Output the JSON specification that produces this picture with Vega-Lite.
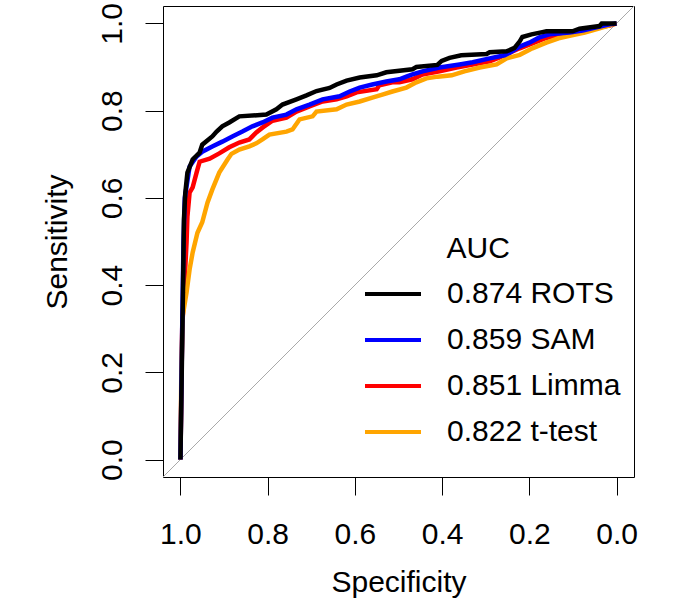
{
  "$schema": "https://vega.github.io/schema/vega-lite/v6.json",
  "width": 471,
  "height": 471,
  "autosize": {"type": "none"},
  "padding": {"left": 163, "top": 6, "right": 48, "bottom": 129},
  "background": "white",
  "config": {
    "font": "Liberation Sans",
    "view": {"stroke": "black", "strokeWidth": 1},
    "axis": {
      "domain": false, "grid": false,
      "tickColor": "black", "tickSize": 18, "tickWidth": 1,
      "labelFont": "Liberation Sans", "labelFontSize": 30, "labelColor": "black",
      "titleFont": "Liberation Sans", "titleFontSize": 30, "titleFontWeight": "normal", "titleColor": "black",
      "labelFlush": false, "labelOverlap": false
    },
    "legend": {
      "orient": "none", "legendX": 215, "legendY": 273, "padding": 0,
      "labelFont": "Liberation Sans", "labelFontSize": 30, "labelColor": "black", "labelLimit": 400,
      "symbolType": "M-3.5,0H3.5", "symbolSize": 256, "symbolStrokeWidth": 4,
      "labelOffset": 39, "rowPadding": 16
    }
  },
  "data": {"values": [
    {"s":"0.874 ROTS","spec":1.0,"sens":0.0},{"s":"0.874 ROTS","spec":0.997,"sens":0.2},{"s":"0.874 ROTS","spec":0.994,"sens":0.4},{"s":"0.874 ROTS","spec":0.992,"sens":0.55},{"s":"0.874 ROTS","spec":0.989,"sens":0.61},{"s":"0.874 ROTS","spec":0.984,"sens":0.658},{"s":"0.874 ROTS","spec":0.972,"sens":0.688},{"s":"0.874 ROTS","spec":0.956,"sens":0.704},{"s":"0.874 ROTS","spec":0.95,"sens":0.722},{"s":"0.874 ROTS","spec":0.927,"sens":0.741},{"s":"0.874 ROTS","spec":0.917,"sens":0.752},{"s":"0.874 ROTS","spec":0.904,"sens":0.764},{"s":"0.874 ROTS","spec":0.888,"sens":0.773},{"s":"0.874 ROTS","spec":0.865,"sens":0.787},{"s":"0.874 ROTS","spec":0.803,"sens":0.791},{"s":"0.874 ROTS","spec":0.78,"sens":0.803},{"s":"0.874 ROTS","spec":0.766,"sens":0.814},{"s":"0.874 ROTS","spec":0.734,"sens":0.826},{"s":"0.874 ROTS","spec":0.711,"sens":0.835},{"s":"0.874 ROTS","spec":0.688,"sens":0.845},{"s":"0.874 ROTS","spec":0.658,"sens":0.852},{"s":"0.874 ROTS","spec":0.642,"sens":0.86},{"s":"0.874 ROTS","spec":0.619,"sens":0.869},{"s":"0.874 ROTS","spec":0.589,"sens":0.876},{"s":"0.874 ROTS","spec":0.55,"sens":0.881},{"s":"0.874 ROTS","spec":0.528,"sens":0.888},{"s":"0.874 ROTS","spec":0.468,"sens":0.895},{"s":"0.874 ROTS","spec":0.459,"sens":0.9},{"s":"0.874 ROTS","spec":0.411,"sens":0.905},{"s":"0.874 ROTS","spec":0.401,"sens":0.914},{"s":"0.874 ROTS","spec":0.383,"sens":0.921},{"s":"0.874 ROTS","spec":0.356,"sens":0.927},{"s":"0.874 ROTS","spec":0.298,"sens":0.93},{"s":"0.874 ROTS","spec":0.291,"sens":0.934},{"s":"0.874 ROTS","spec":0.252,"sens":0.936},{"s":"0.874 ROTS","spec":0.234,"sens":0.944},{"s":"0.874 ROTS","spec":0.222,"sens":0.959},{"s":"0.874 ROTS","spec":0.216,"sens":0.969},{"s":"0.874 ROTS","spec":0.195,"sens":0.975},{"s":"0.874 ROTS","spec":0.17,"sens":0.98},{"s":"0.874 ROTS","spec":0.161,"sens":0.982},{"s":"0.874 ROTS","spec":0.101,"sens":0.982},{"s":"0.874 ROTS","spec":0.085,"sens":0.988},{"s":"0.874 ROTS","spec":0.039,"sens":0.994},{"s":"0.874 ROTS","spec":0.034,"sens":1.0},{"s":"0.874 ROTS","spec":0.0,"sens":1.0},

    {"s":"0.859 SAM","spec":1.0,"sens":0.0},{"s":"0.859 SAM","spec":0.996,"sens":0.3},{"s":"0.859 SAM","spec":0.993,"sens":0.5},{"s":"0.859 SAM","spec":0.99,"sens":0.6},{"s":"0.859 SAM","spec":0.979,"sens":0.672},{"s":"0.859 SAM","spec":0.963,"sens":0.695},{"s":"0.859 SAM","spec":0.95,"sens":0.706},{"s":"0.859 SAM","spec":0.927,"sens":0.718},{"s":"0.859 SAM","spec":0.904,"sens":0.729},{"s":"0.859 SAM","spec":0.881,"sens":0.741},{"s":"0.859 SAM","spec":0.858,"sens":0.752},{"s":"0.859 SAM","spec":0.835,"sens":0.764},{"s":"0.859 SAM","spec":0.812,"sens":0.773},{"s":"0.859 SAM","spec":0.789,"sens":0.784},{"s":"0.859 SAM","spec":0.757,"sens":0.791},{"s":"0.859 SAM","spec":0.734,"sens":0.803},{"s":"0.859 SAM","spec":0.704,"sens":0.814},{"s":"0.859 SAM","spec":0.674,"sens":0.826},{"s":"0.859 SAM","spec":0.635,"sens":0.833},{"s":"0.859 SAM","spec":0.612,"sens":0.844},{"s":"0.859 SAM","spec":0.589,"sens":0.853},{"s":"0.859 SAM","spec":0.56,"sens":0.86},{"s":"0.859 SAM","spec":0.528,"sens":0.867},{"s":"0.859 SAM","spec":0.498,"sens":0.872},{"s":"0.859 SAM","spec":0.482,"sens":0.878},{"s":"0.859 SAM","spec":0.468,"sens":0.883},{"s":"0.859 SAM","spec":0.445,"sens":0.89},{"s":"0.859 SAM","spec":0.406,"sens":0.899},{"s":"0.859 SAM","spec":0.36,"sens":0.906},{"s":"0.859 SAM","spec":0.33,"sens":0.911},{"s":"0.859 SAM","spec":0.291,"sens":0.92},{"s":"0.859 SAM","spec":0.257,"sens":0.927},{"s":"0.859 SAM","spec":0.245,"sens":0.933},{"s":"0.859 SAM","spec":0.222,"sens":0.947},{"s":"0.859 SAM","spec":0.2,"sens":0.956},{"s":"0.859 SAM","spec":0.177,"sens":0.968},{"s":"0.859 SAM","spec":0.154,"sens":0.975},{"s":"0.859 SAM","spec":0.108,"sens":0.979},{"s":"0.859 SAM","spec":0.078,"sens":0.984},{"s":"0.859 SAM","spec":0.046,"sens":0.991},{"s":"0.859 SAM","spec":0.016,"sens":0.998},{"s":"0.859 SAM","spec":0.0,"sens":1.0},

    {"s":"0.851 Limma","spec":1.0,"sens":0.0},{"s":"0.851 Limma","spec":0.996,"sens":0.3},{"s":"0.851 Limma","spec":0.986,"sens":0.498},{"s":"0.851 Limma","spec":0.984,"sens":0.557},{"s":"0.851 Limma","spec":0.979,"sens":0.612},{"s":"0.851 Limma","spec":0.972,"sens":0.624},{"s":"0.851 Limma","spec":0.963,"sens":0.658},{"s":"0.851 Limma","spec":0.956,"sens":0.683},{"s":"0.851 Limma","spec":0.933,"sens":0.69},{"s":"0.851 Limma","spec":0.911,"sens":0.702},{"s":"0.851 Limma","spec":0.888,"sens":0.716},{"s":"0.851 Limma","spec":0.865,"sens":0.727},{"s":"0.851 Limma","spec":0.842,"sens":0.734},{"s":"0.851 Limma","spec":0.826,"sens":0.75},{"s":"0.851 Limma","spec":0.812,"sens":0.761},{"s":"0.851 Limma","spec":0.789,"sens":0.777},{"s":"0.851 Limma","spec":0.757,"sens":0.784},{"s":"0.851 Limma","spec":0.734,"sens":0.798},{"s":"0.851 Limma","spec":0.704,"sens":0.81},{"s":"0.851 Limma","spec":0.674,"sens":0.821},{"s":"0.851 Limma","spec":0.642,"sens":0.826},{"s":"0.851 Limma","spec":0.619,"sens":0.833},{"s":"0.851 Limma","spec":0.596,"sens":0.842},{"s":"0.851 Limma","spec":0.55,"sens":0.849},{"s":"0.851 Limma","spec":0.544,"sens":0.858},{"s":"0.851 Limma","spec":0.514,"sens":0.865},{"s":"0.851 Limma","spec":0.498,"sens":0.865},{"s":"0.851 Limma","spec":0.468,"sens":0.872},{"s":"0.851 Limma","spec":0.445,"sens":0.883},{"s":"0.851 Limma","spec":0.406,"sens":0.89},{"s":"0.851 Limma","spec":0.367,"sens":0.899},{"s":"0.851 Limma","spec":0.33,"sens":0.906},{"s":"0.851 Limma","spec":0.291,"sens":0.913},{"s":"0.851 Limma","spec":0.268,"sens":0.922},{"s":"0.851 Limma","spec":0.245,"sens":0.933},{"s":"0.851 Limma","spec":0.222,"sens":0.943},{"s":"0.851 Limma","spec":0.193,"sens":0.954},{"s":"0.851 Limma","spec":0.163,"sens":0.966},{"s":"0.851 Limma","spec":0.131,"sens":0.975},{"s":"0.851 Limma","spec":0.094,"sens":0.982},{"s":"0.851 Limma","spec":0.055,"sens":0.989},{"s":"0.851 Limma","spec":0.016,"sens":0.995},{"s":"0.851 Limma","spec":0.0,"sens":1.0},

    {"s":"0.822 t-test","spec":1.0,"sens":0.0},{"s":"0.822 t-test","spec":0.998,"sens":0.2},{"s":"0.822 t-test","spec":0.995,"sens":0.328},{"s":"0.822 t-test","spec":0.986,"sens":0.383},{"s":"0.822 t-test","spec":0.979,"sens":0.436},{"s":"0.822 t-test","spec":0.972,"sens":0.475},{"s":"0.822 t-test","spec":0.961,"sens":0.52},{"s":"0.822 t-test","spec":0.95,"sens":0.544},{"s":"0.822 t-test","spec":0.938,"sens":0.589},{"s":"0.822 t-test","spec":0.927,"sens":0.619},{"s":"0.822 t-test","spec":0.911,"sens":0.658},{"s":"0.822 t-test","spec":0.892,"sens":0.688},{"s":"0.822 t-test","spec":0.883,"sens":0.701},{"s":"0.822 t-test","spec":0.865,"sens":0.711},{"s":"0.822 t-test","spec":0.842,"sens":0.718},{"s":"0.822 t-test","spec":0.826,"sens":0.725},{"s":"0.822 t-test","spec":0.812,"sens":0.734},{"s":"0.822 t-test","spec":0.796,"sens":0.745},{"s":"0.822 t-test","spec":0.757,"sens":0.752},{"s":"0.822 t-test","spec":0.743,"sens":0.757},{"s":"0.822 t-test","spec":0.727,"sens":0.78},{"s":"0.822 t-test","spec":0.697,"sens":0.787},{"s":"0.822 t-test","spec":0.688,"sens":0.798},{"s":"0.822 t-test","spec":0.642,"sens":0.803},{"s":"0.822 t-test","spec":0.619,"sens":0.814},{"s":"0.822 t-test","spec":0.589,"sens":0.821},{"s":"0.822 t-test","spec":0.56,"sens":0.83},{"s":"0.822 t-test","spec":0.537,"sens":0.837},{"s":"0.822 t-test","spec":0.514,"sens":0.844},{"s":"0.822 t-test","spec":0.482,"sens":0.853},{"s":"0.822 t-test","spec":0.459,"sens":0.865},{"s":"0.822 t-test","spec":0.436,"sens":0.874},{"s":"0.822 t-test","spec":0.41,"sens":0.878},{"s":"0.822 t-test","spec":0.378,"sens":0.881},{"s":"0.822 t-test","spec":0.349,"sens":0.89},{"s":"0.822 t-test","spec":0.314,"sens":0.899},{"s":"0.822 t-test","spec":0.275,"sens":0.906},{"s":"0.822 t-test","spec":0.252,"sens":0.92},{"s":"0.822 t-test","spec":0.222,"sens":0.928},{"s":"0.822 t-test","spec":0.193,"sens":0.943},{"s":"0.822 t-test","spec":0.161,"sens":0.956},{"s":"0.822 t-test","spec":0.133,"sens":0.966},{"s":"0.822 t-test","spec":0.105,"sens":0.972},{"s":"0.822 t-test","spec":0.073,"sens":0.979},{"s":"0.822 t-test","spec":0.039,"sens":0.989},{"s":"0.822 t-test","spec":0.009,"sens":0.998},{"s":"0.822 t-test","spec":0.0,"sens":1.0}
  ]},
  "encoding": {
    "x": {"field": "spec", "type": "quantitative",
      "scale": {"domain": [-0.04, 1.04], "reverse": true, "nice": false, "zero": false},
      "axis": {"values": [0, 0.2, 0.4, 0.6, 0.8, 1], "format": ".1f", "title": "Specificity", "labelPadding": 24, "titlePadding": 18}},
    "y": {"field": "sens", "type": "quantitative",
      "scale": {"domain": [-0.04, 1.04], "nice": false, "zero": false},
      "axis": {"values": [0, 0.2, 0.4, 0.6, 0.8, 1], "format": ".1f", "title": "Sensitivity", "labelAngle": -90, "labelAlign": "center", "labelBaseline": "alphabetic", "labelPadding": 23.5, "titlePadding": 25}}
  },
  "layer": [
    {
      "data": {"values": [{"a": 1.04, "b": -0.04, "a2": -0.04, "b2": 1.04}]},
      "mark": {"type": "rule", "color": "#A9A9A9", "strokeWidth": 1},
      "encoding": {
        "x": {"field": "a", "type": "quantitative"},
        "y": {"field": "b", "type": "quantitative"},
        "x2": {"field": "a2"},
        "y2": {"field": "b2"}
      }
    },
    {
      "data": {"values": [{"t": "AUC", "tx": 0.39, "ty": 0.483}]},
      "mark": {"type": "text", "align": "left", "baseline": "middle", "fontSize": 30, "font": "Liberation Sans", "color": "black"},
      "encoding": {
        "x": {"field": "tx", "type": "quantitative"},
        "y": {"field": "ty", "type": "quantitative"},
        "text": {"field": "t"}
      }
    },
    {
      "transform": [{"filter": "datum.s == '0.851 Limma'"}],
      "mark": {"type": "line", "strokeWidth": 4.5, "strokeJoin": "miter", "strokeCap": "butt"},
      "encoding": {"order": {"value": null},
        "color": {"field": "s", "type": "nominal", "title": null,
          "scale": {"domain": ["0.874 ROTS", "0.859 SAM", "0.851 Limma", "0.822 t-test"], "range": ["#000000", "#0000FF", "#FF0000", "#FFA500"]}}}
    },
    {
      "transform": [{"filter": "datum.s == '0.822 t-test'"}],
      "mark": {"type": "line", "strokeWidth": 4.5, "strokeJoin": "miter", "strokeCap": "butt"},
      "encoding": {"order": {"value": null},
        "color": {"field": "s", "type": "nominal", "title": null,
          "scale": {"domain": ["0.874 ROTS", "0.859 SAM", "0.851 Limma", "0.822 t-test"], "range": ["#000000", "#0000FF", "#FF0000", "#FFA500"]}}}
    },
    {
      "transform": [{"filter": "datum.s == '0.859 SAM'"}],
      "mark": {"type": "line", "strokeWidth": 4.5, "strokeJoin": "miter", "strokeCap": "butt"},
      "encoding": {"order": {"value": null},
        "color": {"field": "s", "type": "nominal", "title": null,
          "scale": {"domain": ["0.874 ROTS", "0.859 SAM", "0.851 Limma", "0.822 t-test"], "range": ["#000000", "#0000FF", "#FF0000", "#FFA500"]}}}
    },
    {
      "transform": [{"filter": "datum.s == '0.874 ROTS'"}],
      "mark": {"type": "line", "strokeWidth": 4.5, "strokeJoin": "miter", "strokeCap": "butt"},
      "encoding": {"order": {"value": null},
        "color": {"field": "s", "type": "nominal", "title": null,
          "scale": {"domain": ["0.874 ROTS", "0.859 SAM", "0.851 Limma", "0.822 t-test"], "range": ["#000000", "#0000FF", "#FF0000", "#FFA500"]}}}
    }
  ]
}
